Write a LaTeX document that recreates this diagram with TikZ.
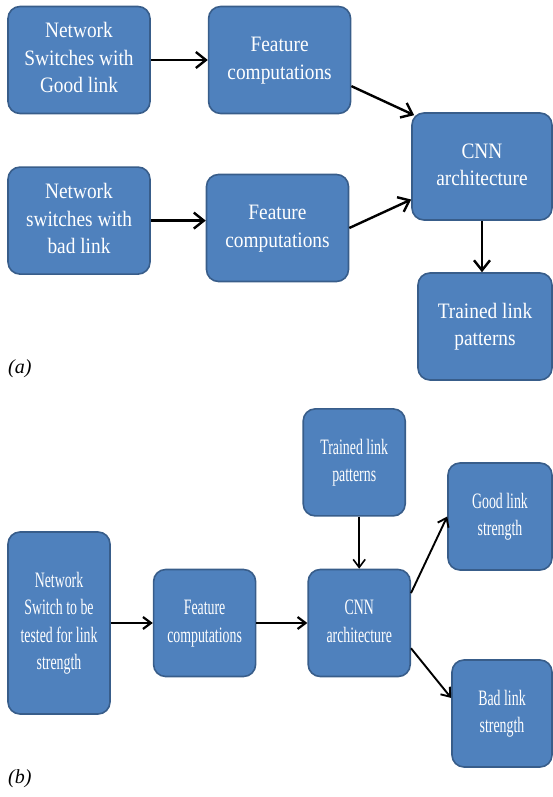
\documentclass[tikz,border=0pt]{standalone}
\usepackage{fontspec}
\setmainfont{Liberation Serif}
\usepackage{graphicx}
\usetikzlibrary{arrows.meta,positioning}
\definecolor{boxblue}{RGB}{79,129,189}
\definecolor{boxedge}{RGB}{56,93,138}
\newcommand{\widetext}[1]{\scalebox{0.88}[1]{\begin{tabular}{@{}c@{}}#1\end{tabular}}}
\newcommand{\slimtext}[1]{\scalebox{0.63}[1]{\begin{tabular}{@{}c@{}}#1\end{tabular}}}

\begin{document}
\begin{tikzpicture}[x=1pt,y=1pt,
  blockA/.style={draw=boxedge,fill=boxblue,line width=1.6pt,rounded corners=12pt,text=white,inner sep=0pt,
    minimum width=142pt,minimum height=107pt,font=\fontsize{22}{27.5}\selectfont},
  blockB/.style={blockA,minimum width=102pt},
  flowA/.style={-{Straight Barb[length=10pt,width=16pt]},line width=2.4pt},
  flowB/.style={-{Straight Barb[length=8pt,width=12pt]},line width=2pt},
  tag/.style={anchor=west,inner sep=0pt,font=\fontsize{20}{24}\selectfont\itshape}]
  \useasboundingbox (0,0) rectangle (553,-797);

  \node[blockA] (goodsw) at (79,-60) {\widetext{Network\\Switches with\\Good link}};
  \node[blockA,right=57pt of goodsw] (featgood) {\widetext{Feature\\computations}};
  \node[blockA,below=52pt of goodsw] (badsw) {\widetext{Network\\switches with\\bad link}};
  \node[blockA] (featbad) at (277.5,-228) {\widetext{Feature\\computations}};
  \node[blockA,minimum width=140pt] (cnna) at (482,-166.5) {\widetext{CNN\\architecture}};
  \node[blockA,minimum width=134pt] (traineda) at (485,-326.5) {\widetext{Trained link\\patterns}};
  \node[tag] (laba) at (8,-369) {(a)};

  \draw[flowA] (goodsw) -- (featgood);
  \draw[flowA] (badsw.east) -- (badsw.east -| featbad.west);
  \draw[flowA] (featgood.-20) -- ([shift={(3pt,-3pt)}]cnna.north west);
  \draw[flowA] (featbad.east) -- (cnna.205);
  \draw[flowA] (cnna.south) -- (cnna.south |- traineda.north);

  \node[blockB,minimum height=182pt] (testsw) at (59,-623) {\slimtext{Network\\Switch to be\\tested for link\\strength}};
  \node[blockB,right=42pt of testsw] (featb) {\slimtext{Feature\\computations}};
  \node[blockB,right=51pt of featb] (cnnb) {\slimtext{CNN\\architecture}};
  \node[blockB,above=52pt of cnnb,xshift=-5pt] (trainedb) {\slimtext{Trained link\\patterns}};
  \node[blockB,minimum width=104pt] (goodout) at (500,-516.5) {\slimtext{Good link\\strength}};
  \node[blockB,minimum width=100pt] (badout) at (502,-713.5) {\slimtext{Bad link\\strength}};
  \node[tag] (labb) at (8,-779) {(b)};

  \draw[flowB,line width=2.2pt] (testsw) -- (featb);
  \draw[flowB,line width=2.2pt] (featb) -- (cnnb);
  \draw[flowB,line width=1.6pt] (trainedb.south -| cnnb.north) -- (cnnb.north);
  \draw[flowB,line width=1.9pt] (cnnb.30) -- (goodout.west);
  \draw[flowB,line width=1.9pt] (cnnb.-26) -- (badout.163);
\end{tikzpicture}
\end{document}
